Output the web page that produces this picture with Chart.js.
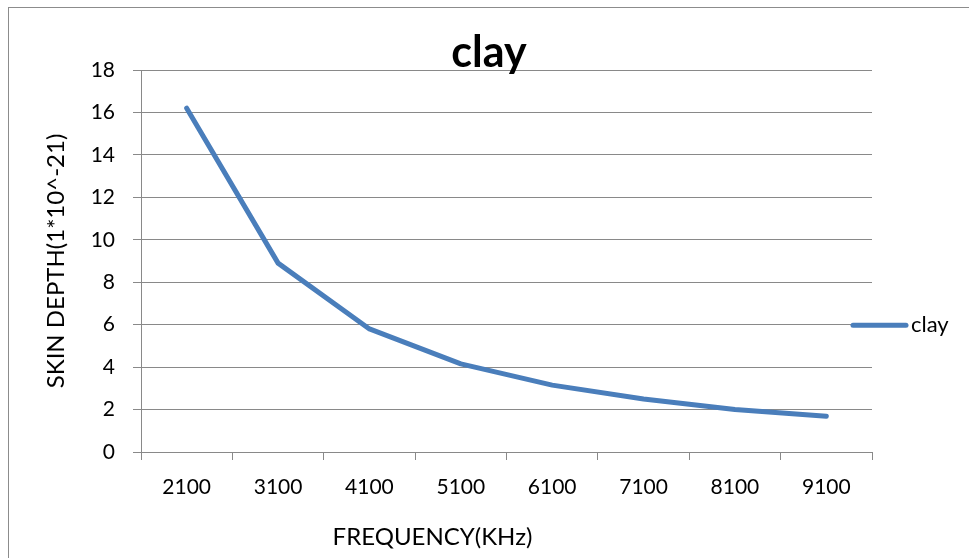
<!DOCTYPE html>
<html>
<head>
<meta charset="utf-8">
<script src="https://cdn.jsdelivr.net/npm/chart.js@4/dist/chart.umd.min.js"></script>
<style>
  html, body { margin: 0; padding: 0; background: #fff; }
  #wrap { position: relative; width: 969px; height: 558px; }
</style>
</head>
<body>
<div id="wrap"><canvas id="chart"></canvas></div>
<script>
// chart data
var frequencies = ["2100", "3100", "4100", "5100", "6100", "7100", "8100", "9100"];
var skinDepth = [16.2, 8.9, 5.8, 4.15, 3.15, 2.5, 2.0, 1.68];
var seriesName = "clay";
var chartTitle = "clay";
var xTitle = "FREQUENCY(KHz)";
var yTitle = "SKIN DEPTH(1*10^-21)";

var lineColor = "#4a7ebb";
var gridColor = "#898989";
var fontFamily = "Lato, 'Open Sans', sans-serif";

// outer frame, chart title, x axis title and legend drawn by hand (Excel-like placement)
var extras = {
  id: "extras",
  beforeDraw: function (chart) {
    var ctx = chart.ctx;
    ctx.save();
    ctx.strokeStyle = "#8c8c8c";
    ctx.lineWidth = 1;
    ctx.strokeRect(8.5, 7.5, 2000, 2000);
    ctx.restore();
  },
  afterDraw: function (chart) {
    var ctx = chart.ctx;
    var area = chart.chartArea;
    ctx.save();
    ctx.fillStyle = "#000";
    // chart title
    ctx.font = "bold 43px " + fontFamily;
    ctx.textAlign = "center";
    ctx.textBaseline = "alphabetic";
    ctx.fillText(chartTitle, 489, 67);
    // x axis title
    ctx.font = "24px " + fontFamily;
    ctx.textBaseline = "middle";
    ctx.fillText(xTitle, (area.left + area.right) / 2 - 74, 537);
    // legend
    var ly = chart.scales.y.getPixelForValue(6) + 0.5;
    ctx.strokeStyle = lineColor;
    ctx.lineWidth = 5;
    ctx.lineCap = "round";
    ctx.beginPath();
    ctx.moveTo(area.right - 19, ly);
    ctx.lineTo(area.right + 34, ly);
    ctx.stroke();
    ctx.font = "22px " + fontFamily;
    ctx.textAlign = "left";
    ctx.fillText(seriesName, area.right + 39, ly);
    ctx.restore();
  }
};

var ctx = document.getElementById("chart").getContext("2d");
new Chart(ctx, {
  type: "line",
  data: {
    labels: frequencies,
    datasets: [{
      label: seriesName,
      data: skinDepth,
      borderColor: lineColor,
      borderWidth: 5,
      borderCapStyle: "round",
      borderJoinStyle: "round",
      pointRadius: 0,
      tension: 0,
      fill: false
    }]
  },
  options: {
    responsive: true,
    maintainAspectRatio: false,
    animation: false,
    layout: { padding: { left: 0, top: 70, right: 97, bottom: 0 } },
    plugins: {
      legend: { display: false },
      tooltip: { enabled: false },
      title: { display: false }
    },
    scales: {
      x: {
        offset: true,
        grid: {
          offset: true,
          drawOnChartArea: false,
          color: gridColor,
          tickLength: 8
        },
        border: { color: gridColor, width: 1 },
        ticks: {
          color: "#000",
          font: { family: fontFamily, size: 21 },
          padding: 15,
          maxRotation: 0
        },
        afterFit: function (scale) { scale.height = 106; }
      },
      y: {
        min: 0,
        max: 18,
        ticks: {
          stepSize: 2,
          color: "#000",
          font: { family: fontFamily, size: 21 },
          padding: 18
        },
        grid: { color: gridColor, tickLength: 8 },
        border: { color: gridColor, width: 1 },
        title: {
          display: true,
          text: yTitle,
          color: "#000",
          font: { family: fontFamily, size: 24 },
          padding: { top: 42, bottom: 0 }
        },
        afterFit: function (scale) { scale.width = 141; }
      }
    }
  },
  plugins: [extras]
});
</script>
</body>
</html>
